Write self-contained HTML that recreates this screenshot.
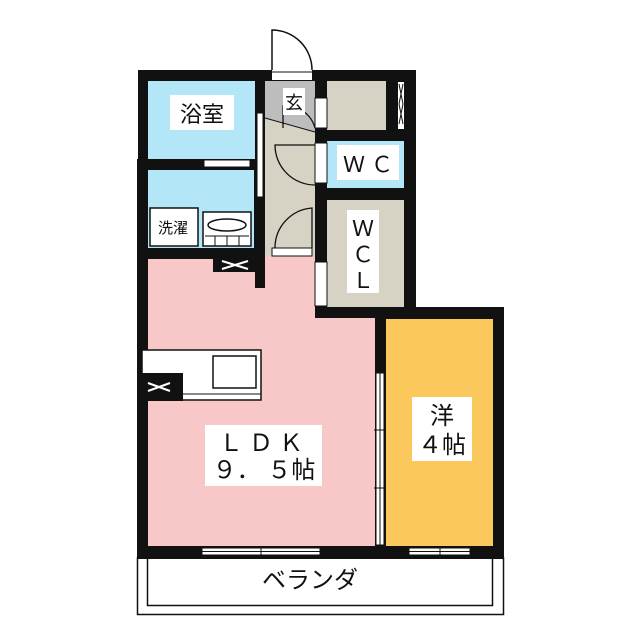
<!DOCTYPE html>
<html><head><meta charset="utf-8"><style>
html,body{margin:0;padding:0;background:#fff;}
svg{display:block;}
text{font-family:"Liberation Sans","Noto Sans CJK JP",sans-serif;fill:#111;}
</style></head><body>
<svg width="640" height="640" viewBox="0 0 640 640" xmlns="http://www.w3.org/2000/svg">
<rect width="640" height="640" fill="#fff"/>
<rect x="138" y="70" width="278" height="250" fill="#111"/>
<rect x="137" y="159" width="190" height="400" fill="#111"/>
<rect x="137" y="307" width="367" height="252" fill="#111"/>
<rect x="148" y="81" width="107" height="78" fill="#b3e6f6"/>
<rect x="148" y="170" width="106" height="78" fill="#b3e6f6"/>
<rect x="265" y="81" width="50" height="55" fill="#bdbdbd"/>
<rect x="265" y="132" width="50" height="127" fill="#d6d3c5"/>
<polygon points="265,118 315,132 315,136 265,136" fill="#d6d3c5"/>
<rect x="327" y="81" width="59" height="49" fill="#d6d3c5"/>
<rect x="327" y="141" width="77" height="47" fill="#b3e6f6"/>
<rect x="327" y="200" width="77" height="107" fill="#d6d3c5"/>
<rect x="148" y="259" width="167" height="60" fill="#f8c8c9"/>
<rect x="148" y="318" width="227" height="228" fill="#f8c8c9"/>
<rect x="265" y="255" width="50" height="10" fill="#f8c8c9"/>
<rect x="386" y="319" width="107" height="227" fill="#fbc95b"/>
<rect x="213" y="258" width="47" height="14" fill="#111"/>
<rect x="255" y="258" width="10" height="30" fill="#111"/>
<path d="M222 261 L248 269 M222 269 L248 261" stroke="#fff" stroke-width="2"/>
<rect x="386" y="81" width="11" height="49" fill="#111"/>
<rect x="398" y="82" width="6" height="47" fill="#fff"/>
<path d="M399 84 L403 104 L399 124 M403 84 L399 104 L403 124" stroke="#111" fill="none"/>
<rect x="272" y="70" width="40" height="10" fill="#fff"/>
<path d="M272 72 L312 72" stroke="#111"/>
<path d="M272 70 L272 30 A40 40 0 0 1 312 70" stroke="#111" fill="none" stroke-width="1.5"/>
<rect x="315" y="98" width="12" height="30" fill="#fff" stroke="#111"/>
<rect x="315" y="143" width="12" height="40" fill="#fff" stroke="#111"/>
<rect x="315" y="262" width="12" height="44" fill="#fff" stroke="#111"/>
<rect x="257" y="113" width="6" height="84" fill="#fff" stroke="#111"/>
<rect x="204" y="160" width="46" height="7" fill="#fff" stroke="#111"/>
<rect x="272" y="248" width="40" height="8" fill="#fff" stroke="#111"/>
<path d="M315 128 A30 30 0 0 0 283 106 L283 128 M315 185 A40 40 0 0 1 275 145 L315 145 M275 248 A40 40 0 0 1 312 208 L312 248" stroke="#111" fill="none" stroke-width="1.3"/>
<path d="M265 118 L315 132" stroke="#111"/>
<rect x="150" y="208" width="48" height="38" fill="#fff" stroke="#111" stroke-width="1.5"/>
<rect x="203" y="212" width="48" height="34" fill="#fff" stroke="#111" stroke-width="1.5"/>
<ellipse cx="227" cy="225" rx="19" ry="6" fill="none" stroke="#111" stroke-width="1.5"/>
<path d="M205 236 L249 236 M215 236 L215 246 M227 236 L227 246 M239 236 L239 246" stroke="#111"/>
<rect x="142" y="350" width="119" height="50" fill="#fff" stroke="#111" stroke-width="1.5"/>
<rect x="213" y="356" width="43" height="32" fill="#fff" stroke="#111" stroke-width="1.5"/>
<path d="M183 394 L261 394" stroke="#111"/>
<rect x="138" y="373" width="45" height="28" fill="#111"/>
<path d="M148 383 L170 391 M148 391 L170 383" stroke="#fff" stroke-width="2"/>
<rect x="376" y="373" width="8" height="172" fill="#fff" stroke="#111"/>
<path d="M380 373 L380 545 M374 430 L386 430 M374 488 L386 488" stroke="#111"/>
<rect x="202" y="548" width="118" height="7" fill="#fff" stroke="#111"/>
<path d="M202 551.5 L320 551.5 M261 546 L261 557" stroke="#111"/>
<rect x="409" y="548" width="61" height="7" fill="#fff" stroke="#111"/>
<path d="M409 551.5 L470 551.5 M440 546 L440 557" stroke="#111"/>
<path d="M137.5 557 L137.5 614.5 L503.5 614.5 L503.5 557 M147.5 557 L147.5 605.5 L492.5 605.5 L492.5 557" stroke="#111" fill="none" stroke-width="1.5"/>
<rect x="170" y="95" width="64" height="35" fill="#fff"/>
<text x="202" y="122" font-size="22" text-anchor="middle">浴室</text>
<rect x="283" y="88" width="22" height="27" fill="#fff"/>
<text x="294" y="109" font-size="18" text-anchor="middle">玄</text>
<rect x="337" y="145" width="62" height="35" fill="#fff"/>
<text x="368" y="172" font-size="22" text-anchor="middle">Ｗ Ｃ</text>
<rect x="347" y="210" width="32" height="83" fill="#fff"/>
<text x="363" y="236" font-size="22" text-anchor="middle">Ｗ</text>
<text x="363" y="262" font-size="22" text-anchor="middle">Ｃ</text>
<text x="363" y="288" font-size="22" text-anchor="middle">Ｌ</text>
<rect x="153" y="215" width="41" height="25" fill="#fff"/>
<text x="173" y="233" font-size="15" text-anchor="middle">洗濯</text>
<rect x="205" y="425" width="117" height="61" fill="#fff"/>
<text x="264" y="451" font-size="24" text-anchor="middle" letter-spacing="6">ＬＤＫ</text>
<text x="264" y="478" font-size="24" text-anchor="middle">９． ５帖</text>
<rect x="412" y="397" width="60" height="64" fill="#fff"/>
<text x="442" y="424" font-size="24" text-anchor="middle">洋</text>
<text x="442" y="453" font-size="24" text-anchor="middle">４帖</text>
<text x="310" y="588" font-size="24" text-anchor="middle">ベランダ</text>
</svg>
</body></html>
